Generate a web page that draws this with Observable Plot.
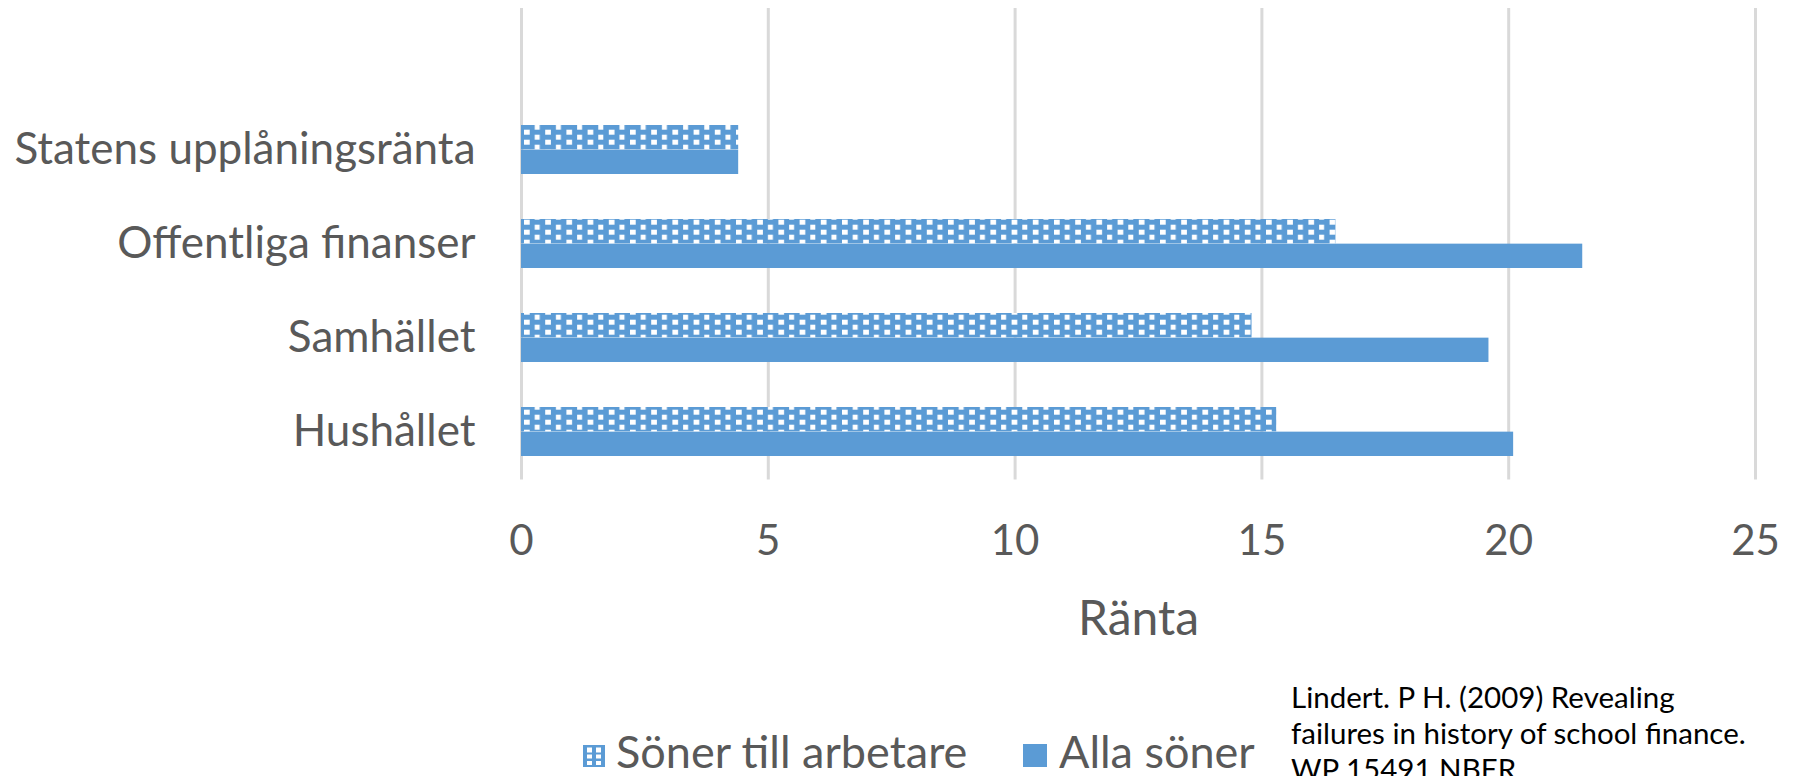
<!DOCTYPE html>
<html>
<head>
<meta charset="utf-8">
<script src="https://cdn.jsdelivr.net/npm/d3@7"></script>
<script src="https://cdn.jsdelivr.net/npm/@observablehq/plot@0.6"></script>
<style>
  html, body { margin: 0; padding: 0; background: #fff; overflow: hidden; width: 1796px; height: 776px; }
  #chart svg { display: block; }
  #below { position: relative; width: 1796px; height: 96px; font-family: Lato, sans-serif; }
  .leg-item { position: absolute; font-size: 45px; line-height: 45px; color: #595959; white-space: nowrap; }
  .leg-swatch { position: absolute; line-height: 0; }
  #caption { position: absolute; left: 1291px; top: -1px; font-size: 29.5px; line-height: 36px; color: #000; white-space: nowrap; }
</style>
</head>
<body>
<div id="chart"></div>
<div id="below"></div>
<script>
// ---- Data ----
const categories = ["Statens upplåningsränta", "Offentliga finanser", "Samhället", "Hushållet"];
const sonerTillArbetare = [4.4, 16.5, 14.8, 15.3];
const allaSoner = [4.4, 21.5, 19.6, 20.1];
const seriesNames = ["Söner till arbetare", "Alla söner"];
const xTicks = [0, 5, 10, 15, 20, 25];
const xLabel = "Ränta";
const captionLines = ["Lindert. P H. (2009) Revealing", "failures in history of school finance.", "WP 15491 NBER"];

// ---- Styling ----
const BLUE = "#5b9bd5";
const TEXT = "#595959";
const halfBand = 24.65;

const hatchedData = categories.map((c, i) => ({category: c, value: sonerTillArbetare[i]}));
const solidData = categories.map((c, i) => ({category: c, value: allaSoner[i]}));

const defsMark = () => {
  const ns = "http://www.w3.org/2000/svg";
  const defs = document.createElementNS(ns, "defs");
  defs.innerHTML =
    `<pattern id="smallGrid" patternUnits="userSpaceOnUse" x="15.2" y="4.7" width="21.2" height="10">` +
    `<rect width="21.2" height="10" fill="${BLUE}"/>` +
    `<rect x="10.7" y="0" width="5" height="5" fill="#fff"/>` +
    `<rect x="0" y="5" width="5.7" height="5" fill="#fff"/>` +
    `</pattern>`;
  return defs;
};

const chart = Plot.plot({
  width: 1796,
  height: 680,
  marginLeft: 521,
  marginRight: 41,
  marginTop: 101.8,
  marginBottom: 200.5,
  style: {fontFamily: "Lato, sans-serif", color: TEXT, background: "#fff"},
  x: {domain: [0, 25]},
  y: {domain: categories, paddingInner: 0.478, paddingOuter: 0.239},
  marks: [
    defsMark,
    Plot.ruleX(xTicks, {stroke: "#d9d9d9", strokeWidth: 3, insetTop: -93.8}),
    Plot.barX(hatchedData, {x: "value", y: "category", fill: "url(#smallGrid)", insetBottom: halfBand}),
    Plot.barX(solidData, {x: "value", y: "category", fill: BLUE, insetTop: halfBand}),
    Plot.axisX({ticks: xTicks, tickSize: 0, tickPadding: 45, fontSize: 42, fill: TEXT, label: null}),
    Plot.axisX({ticks: [], tickSize: 0, fontSize: 48, fill: TEXT,
                label: xLabel, labelAnchor: "center", labelArrow: "none", labelOffset: 155}),
    Plot.axisY({tickSize: 0, tickPadding: 46, fontSize: 44, fill: TEXT, label: null})
  ]
});
document.getElementById("chart").appendChild(chart);

// ---- Legend + caption (HTML, below the SVG) ----
const below = document.getElementById("below");
const swatchHatched = `<svg width="22" height="22" viewBox="0 0 22 22">
  <rect width="22" height="22" fill="${BLUE}"/>
  <rect x="4" y="2.5" width="5" height="5" fill="#fff"/><rect x="13" y="2.5" width="5" height="5" fill="#fff"/>
  <rect x="4" y="9.5" width="5" height="4" fill="#fff"/><rect x="13" y="9.5" width="5" height="4" fill="#fff"/>
  <rect x="4" y="16" width="5" height="4" fill="#fff"/><rect x="13" y="16" width="5" height="4" fill="#fff"/>
</svg>`;
const swatchSolid = `<svg width="24" height="23"><rect width="24" height="23" fill="${BLUE}"/></svg>`;
below.innerHTML =
  `<div class="leg-swatch" style="left:583px; top:65px">${swatchHatched}</div>` +
  `<div class="leg-item" style="left:616px; top:49px">${seriesNames[0]}</div>` +
  `<div class="leg-swatch" style="left:1023px; top:64px">${swatchSolid}</div>` +
  `<div class="leg-item" style="left:1059px; top:49px">${seriesNames[1]}</div>` +
  `<div id="caption">${captionLines.join("<br>")}</div>`;
</script>
</body>
</html>
